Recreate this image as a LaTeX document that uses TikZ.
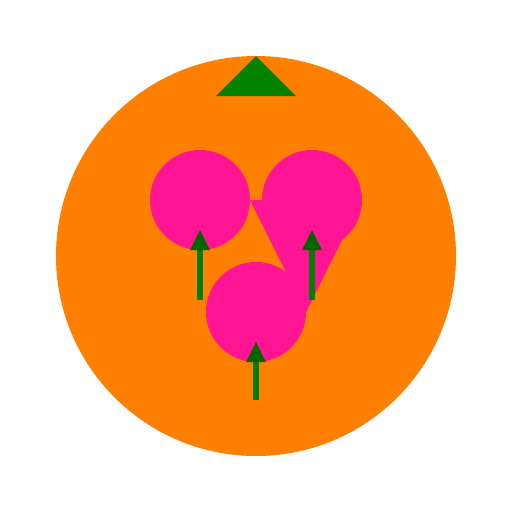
\documentclass[tikz,border=0pt]{standalone}
\usepackage{tikz}
\definecolor{fruit}{RGB}{255,128,0}
\definecolor{berry}{RGB}{255,20,147}
\definecolor{leaf}{RGB}{0,128,0}
\definecolor{darkleaf}{RGB}{0,100,0}
\begin{document}
\begin{tikzpicture}[x=1pt, y=-1pt]
      \useasboundingbox (0, 0) rectangle (512, 512);
      \fill [fruit] (256, 256) circle (200);
      \fill [leaf] (256, 56) -- (296, 96) -- (216, 96) -- cycle;

      % Berries
      \fill [berry] (250, 200) -- (362, 200) -- (306, 312) -- cycle;
      \foreach \x/\y in {200/200, 312/200, 256/312}
        \fill [berry] (\x, \y) circle (50);

      % Arrows
      \foreach \x/\y/\e in {200/230/300, 312/230/300, 256/342/400} {
        \draw [leaf, line width=6] (\x, \y + 20) -- (\x, \e);
        \fill [darkleaf] (\x, \y) -- (\x + 10, \y + 20) -- (\x - 10, \y + 20) -- cycle;
      }
    \end{tikzpicture}
\end{document}
